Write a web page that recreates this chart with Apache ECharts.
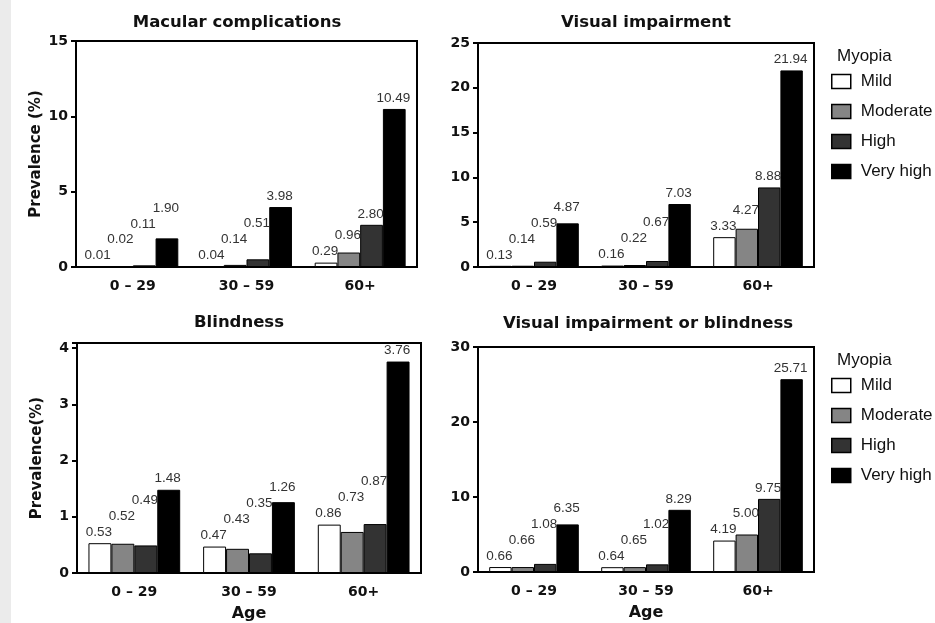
<!DOCTYPE html>
<html>
<head>
<meta charset="utf-8">
<script src="https://cdn.jsdelivr.net/npm/echarts@6/dist/echarts.min.js"></script>
<style>
    html, body { margin: 0; padding: 0; background: #fff; }
    #chart { width: 935px; height: 623px; }
</style>
</head>
<body>
<div id="chart"></div>
<script>
var ageGroups = ['0 – 29', '30 – 59', '60+'];
var myopiaLevels = ['Mild', 'Moderate', 'High', 'Very high'];

// macular complications
var macularMild = [0.01, 0.04, 0.29];
var macularModerate = [0.02, 0.14, 0.96];
var macularHigh = [0.11, 0.51, 2.80];
var macularVeryHigh = [1.90, 3.98, 10.49];

// visual impairment
var viMild = [0.13, 0.16, 3.33];
var viModerate = [0.14, 0.22, 4.27];
var viHigh = [0.59, 0.67, 8.88];
var viVeryHigh = [4.87, 7.03, 21.94];

// blindness
var blindMild = [0.53, 0.47, 0.86];
var blindModerate = [0.52, 0.43, 0.73];
var blindHigh = [0.49, 0.35, 0.87];
var blindVeryHigh = [1.48, 1.26, 3.76];

// visual impairment or blindness
var vibMild = [0.66, 0.64, 4.19];
var vibModerate = [0.66, 0.65, 5.00];
var vibHigh = [1.08, 1.02, 9.75];
var vibVeryHigh = [6.35, 8.29, 25.71];

var levelColors = ['#ffffff', '#858585', '#333333', '#000000'];

var boldFont = 'DejaVu Sans';
var plainFont = 'Liberation Sans';

var panels = [
    {
        title: 'Macular complications', titleX: 237, titleY: 14,
        grid: { left: 76, top: 41, width: 341, height: 226 },
        max: 15, interval: 5, yName: 'Prevalence (%)', xName: '',
        data: [macularMild, macularModerate, macularHigh, macularVeryHigh]
    },
    {
        title: 'Visual impairment', titleX: 646, titleY: 14,
        grid: { left: 478, top: 43, width: 336, height: 224 },
        max: 25, interval: 5, yName: '', xName: '',
        data: [viMild, viModerate, viHigh, viVeryHigh]
    },
    {
        title: 'Blindness', titleX: 239, titleY: 314,
        grid: { left: 77, top: 343, width: 344, height: 230 },
        max: 4.09, interval: 1, yName: 'Prevalence(%)', xName: 'Age',
        data: [blindMild, blindModerate, blindHigh, blindVeryHigh]
    },
    {
        title: 'Visual impairment or blindness', titleX: 648, titleY: 315,
        grid: { left: 478, top: 347, width: 336, height: 225 },
        max: 30, interval: 10, yName: '', xName: 'Age',
        data: [vibMild, vibModerate, vibHigh, vibVeryHigh]
    }
];

var chart = echarts.init(document.getElementById('chart'));

function buildSeries(offsets) {
    var series = [];
    panels.forEach(function (p, pi) {
        p.data.forEach(function (values, li) {
            series.push({
                name: myopiaLevels[li],
                type: 'bar',
                xAxisIndex: pi,
                yAxisIndex: pi,
                barGap: '0%',
                barCategoryGap: '20%',
                itemStyle: { color: levelColors[li], borderColor: '#000', borderWidth: 1 },
                label: {
                    show: true,
                    position: 'top',
                    distance: 0,
                    verticalAlign: 'middle',
                    fontFamily: plainFont,
                    fontSize: 13.5,
                    color: '#333',
                    formatter: function (d) { return d.value.toFixed(2); }
                },
                data: values.map(function (v, ci) {
                    return { value: v, label: { offset: [-1, offsets ? offsets[pi][li][ci] : -11] } };
                })
            });
        });
    });
    return series;
}

function legendFor(top) {
    return {
        data: myopiaLevels,
        orient: 'vertical',
        left: 831,
        top: top,
        padding: 0,
        itemWidth: 19,
        itemHeight: 14,
        itemGap: 13,
        icon: 'rect',
        selectedMode: false,
        itemStyle: { borderColor: '#000', borderWidth: 1.5 },
        textStyle: { fontFamily: plainFont, fontSize: 17, color: '#111', padding: [0, 0, 0, 5] }
    };
}

var titles = panels.map(function (p) {
    return {
        text: p.title,
        left: p.titleX,
        top: p.titleY,
        textAlign: 'center',
        padding: 0,
        textStyle: { fontFamily: boldFont, fontWeight: 'bold', fontSize: 16.5, color: '#111' }
    };
});
titles.push({ text: 'Myopia', left: 837, top: 48, padding: 0,
    textStyle: { fontFamily: plainFont, fontWeight: 'normal', fontSize: 17, color: '#111' } });
titles.push({ text: 'Myopia', left: 837, top: 352, padding: 0,
    textStyle: { fontFamily: plainFont, fontWeight: 'normal', fontSize: 17, color: '#111' } });

var option = {
    animation: false,
    backgroundColor: '#fff',
    title: titles,
    legend: [legendFor(73), legendFor(377)],
    graphic: [{
        type: 'rect', left: 0, top: 0, silent: true,
        shape: { width: 11, height: 623 },
        style: { fill: '#ebebeb' }
    }],
    grid: panels.map(function (p) {
        return {
            left: p.grid.left, top: p.grid.top, width: p.grid.width, height: p.grid.height,
            show: true, borderColor: '#000', borderWidth: 2, backgroundColor: 'transparent'
        };
    }),
    xAxis: panels.map(function (p, pi) {
        return {
            type: 'category',
            gridIndex: pi,
            data: ageGroups,
            name: p.xName,
            nameLocation: 'middle',
            nameGap: 33,
            nameTextStyle: { fontFamily: boldFont, fontWeight: 'bold', fontSize: 16, color: '#111' },
            axisLine: { lineStyle: { color: '#000', width: 2 } },
            axisTick: { alignWithLabel: true, length: 5, lineStyle: { color: '#000', width: 2 } },
            axisLabel: { fontFamily: boldFont, fontWeight: 'bold', fontSize: 14, color: '#111', margin: 12 },
            splitLine: { show: false }
        };
    }),
    yAxis: panels.map(function (p, pi) {
        return {
            type: 'value',
            gridIndex: pi,
            min: 0,
            max: p.max,
            interval: p.interval,
            name: p.yName,
            nameLocation: 'middle',
            nameGap: 32,
            nameTextStyle: { fontFamily: boldFont, fontWeight: 'bold', fontSize: 15, color: '#111' },
            axisLine: { show: true, lineStyle: { color: '#000', width: 2 } },
            axisTick: { show: true, length: 5, lineStyle: { color: '#000', width: 2 } },
            axisLabel: {
                fontFamily: boldFont, fontWeight: 'bold', fontSize: 14, color: '#111', margin: 8,
                formatter: function (v) { return v % 1 === 0 ? String(v) : ''; }
            },
            splitLine: { show: false }
        };
    }),
    series: buildSeries(null)
};

chart.setOption(option);

// stagger the value labels so they sit above the bar and never overlap the previous one
function computeOffsets() {
    return panels.map(function (p, pi) {
        var res = p.data.map(function () { return []; });
        ageGroups.forEach(function (g, ci) {
            var prev = Infinity;
            p.data.forEach(function (values, li) {
                var top = chart.convertToPixel({ gridIndex: pi }, [ci, values[ci]])[1];
                var y = Math.min(top - 11, prev - 16);
                prev = y;
                res[li][ci] = y - top;
            });
        });
        return res;
    });
}

chart.setOption({ series: buildSeries(computeOffsets()) });
</script>
</body>
</html>
